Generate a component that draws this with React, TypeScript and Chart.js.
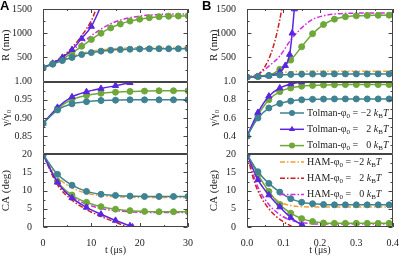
import React, { useEffect, useRef } from 'react';
import { Chart, registerables } from 'chart.js';
Chart.register(...registerables);

const SERIF = '"Liberation Serif", "Times New Roman", serif';

// ---------- Panel A (t in µs, 0–30) ----------
const tA_R = [0, 2, 4, 6, 8, 10, 12, 14, 16, 18, 20, 22, 24, 26, 28, 30];
const RA_tolM2 = [290, 360, 435, 500, 560, 600, 630, 650, 662, 670, 675, 678, 680, 680, 680, 680];
const RA_hamM2 = [290, 368, 450, 522, 582, 626, 656, 676, 688, 695, 700, 702, 704, 705, 705, 705];
const RA_tol0 = [290, 370, 470, 590, 730, 870, 1000, 1110, 1190, 1250, 1290, 1320, 1340, 1350, 1355, 1360];
const RA_ham0 = [290, 385, 505, 645, 795, 950, 1085, 1195, 1270, 1320, 1355, 1375, 1388, 1395, 1398, 1400];
const tA_RtolP2 = [0, 2, 4, 6, 8, 10, 12];
const RA_tolP2 = [290, 378, 500, 660, 890, 1140, 1560];
const tA_RhamP2 = [0, 2, 4, 6, 8, 10, 11, 12];
const RA_hamP2 = [290, 388, 520, 700, 950, 1260, 1500, 1760];

const tA_G = [0, 3, 6, 9, 12, 15, 18, 21, 24, 27, 30];
const GA_tolM2 = [0.885, 0.922, 0.939, 0.945, 0.948, 0.949, 0.95, 0.95, 0.95, 0.95, 0.95];
const GA_tol0 = [0.885, 0.926, 0.951, 0.962, 0.968, 0.971, 0.973, 0.974, 0.975, 0.975, 0.975];
const tA_GtolP2 = [0, 3, 6, 9, 12, 15, 18, 19];
const GA_tolP2 = [0.885, 0.929, 0.958, 0.972, 0.981, 0.989, 0.997, 1.0];

const tA_C = [0, 3, 6, 9, 12, 15, 18, 21, 24, 27, 30];
const CA_tolM2 = [20, 14.5, 11.5, 9.8, 9.0, 8.7, 8.5, 8.4, 8.4, 8.4, 8.4];
const CA_hamM2 = [20, 13.8, 10.8, 9.3, 8.6, 8.3, 8.2, 8.1, 8.1, 8.1, 8.1];
const CA_tol0 = [20, 12.5, 8.8, 6.8, 5.6, 4.9, 4.5, 4.3, 4.2, 4.2, 4.2];
const CA_ham0 = [20, 12.0, 8.3, 6.3, 5.1, 4.5, 4.2, 4.0, 4.0, 4.0, 4.0];
const tA_CtolP2 = [0, 3, 6, 9, 12, 15, 18, 18.5];
const CA_tolP2 = [20, 12.3, 8.0, 5.4, 3.5, 1.8, 0.3, 0];
const tA_ChamP2 = [0, 3, 6, 9, 12, 15, 17.5];
const CA_hamP2 = [20, 11.6, 7.4, 4.8, 2.9, 1.3, 0];

// ---------- Panel B (t in µs, 0–0.4) ----------
const tB = [0, 0.03, 0.06, 0.09, 0.12, 0.15, 0.18, 0.21, 0.24, 0.27, 0.3, 0.33, 0.36, 0.39, 0.4];
const RB_tolM2 = [95, 110, 125, 138, 148, 154, 157, 159, 160, 160, 160, 160, 160, 160, 160];
const RB_hamM2 = [95, 116, 148, 182, 204, 211, 214, 215, 215, 215, 215, 215, 215, 215, 215];
const RB_tol0 = [95, 102, 126, 255, 445, 720, 990, 1180, 1290, 1340, 1360, 1368, 1370, 1372, 1372];
const RB_ham0 = [95, 150, 320, 530, 860, 1110, 1285, 1360, 1395, 1410, 1415, 1418, 1420, 1420, 1420];
const tB_RtolP2 = [0, 0.03, 0.06, 0.09, 0.105, 0.117, 0.124, 0.13, 0.134];
const RB_tolP2 = [95, 103, 125, 200, 330, 560, 1000, 1500, 1700];
const tB_RhamP2 = [0, 0.02, 0.04, 0.05, 0.06, 0.07, 0.08, 0.09, 0.1];
const RB_hamP2 = [95, 125, 210, 320, 470, 670, 940, 1280, 1700];

const GB_tolM2 = [0.4, 0.6, 0.71, 0.76, 0.786, 0.8, 0.806, 0.808, 0.81, 0.81, 0.81, 0.81, 0.81, 0.81, 0.81];
const GB_tol0 = [0.4, 0.63, 0.8, 0.89, 0.93, 0.95, 0.958, 0.963, 0.966, 0.968, 0.968, 0.968, 0.968, 0.968, 0.968];
const tB_GtolP2 = [0, 0.03, 0.06, 0.09, 0.12, 0.15, 0.16];
const GB_tolP2 = [0.4, 0.66, 0.84, 0.93, 0.975, 0.997, 1.0];

const CB_tolM2 = [20, 15.2, 12, 9.6, 7.8, 6.8, 6.4, 6.2, 6.1, 6.1, 6.1, 6.1, 6.1, 6.1, 6.1];
const CB_hamM2 = [20, 13, 9.2, 6.9, 5.9, 5.6, 5.5, 5.5, 5.5, 5.5, 5.5, 5.5, 5.5, 5.5, 5.5];
const CB_tol0 = [20, 14.5, 9.8, 6.2, 3.8, 2.3, 1.5, 1.1, 1.0, 1.0, 1.0, 1.0, 1.0, 1.0, 1.0];
const CB_ham0 = [20, 11, 6.2, 3.4, 1.9, 1.2, 0.9, 0.8, 0.8, 0.8, 0.8, 0.8, 0.8, 0.8, 0.8];
const tB_CtolP2 = [0, 0.03, 0.06, 0.09, 0.12, 0.15, 0.155];
const CB_tolP2 = [20, 13, 8.8, 5.5, 2.6, 0.5, 0];
const tB_ChamP2 = [0, 0.02, 0.04, 0.06, 0.08, 0.1, 0.12, 0.125];
const CB_hamP2 = [20, 12.5, 8, 5, 2.9, 1.4, 0.3, 0];

// legend entries
const legendPrefix = ['Tolman-', 'Tolman-', 'Tolman-', 'HAM-', 'HAM-', 'HAM-'];
const legendNum = ['\u22122', '2', '0', '\u22122', '2', '0'];

const TEAL = '#3f8292';
const PURPLE = '#5a25e2';
const GREEN = '#6fa83a';
const ORANGE = '#f0a030';
const RED = '#cc1f1f';
const MAGENTA = '#d22de0';
const FRAME = '#444';
const DASH = [5, 2, 1.5, 2];

const legendColor = [TEAL, PURPLE, GREEN, ORANGE, RED, MAGENTA];
const legendStyle = ['circle', 'triangle', 'circle', 'ham', 'ham', 'ham'];

function pts(xs: number[], ys: number[]) {
  return xs.map((x, i) => ({ x, y: ys[i] }));
}

function tolman(color: string, style: string, xs: number[], ys: number[], yAxisID: string, markLast = true) {
  const n = xs.length;
  const r = style === 'triangle' ? 3.6 : 3;
  return {
    data: pts(xs, ys),
    yAxisID,
    xAxisID: 'x',
    borderColor: color,
    backgroundColor: color,
    borderWidth: 1.5,
    pointStyle: style,
    pointRadius: (c: any) => (!markLast && c.dataIndex === n - 1 ? 0 : r),
    pointBorderColor: color,
    pointBackgroundColor: color,
    pointBorderWidth: 1,
    cubicInterpolationMode: 'monotone',
    fill: false,
  };
}

function ham(color: string, xs: number[], ys: number[], yAxisID: string) {
  return {
    data: pts(xs, ys),
    yAxisID,
    xAxisID: 'x',
    borderColor: color,
    backgroundColor: color,
    borderWidth: 1.5,
    borderDash: DASH,
    pointRadius: 0,
    cubicInterpolationMode: 'monotone',
    fill: false,
  };
}

function drawMarker(ctx: CanvasRenderingContext2D, style: string, color: string, x: number, y: number) {
  ctx.fillStyle = color;
  ctx.beginPath();
  if (style === 'triangle') {
    const r = 3.6;
    ctx.moveTo(x, y - r);
    ctx.lineTo(x + r * 0.87, y + r * 0.5);
    ctx.lineTo(x - r * 0.87, y + r * 0.5);
    ctx.closePath();
  } else {
    ctx.arc(x, y, 3, 0, Math.PI * 2);
  }
  ctx.fill();
}

function drawLegend(ctx: CanvasRenderingContext2D, rowsY: number[], lineX0: number, lineX1: number, textX: number) {
  ctx.save();
  ctx.textBaseline = 'middle';
  ctx.fillStyle = '#222';
  const big = `10px ${SERIF}`;
  const small = `7px ${SERIF}`;
  const ital = `italic 10px ${SERIF}`;
  rowsY.forEach((y, i) => {
    const color = legendColor[i];
    const style = legendStyle[i];
    ctx.strokeStyle = color;
    ctx.lineWidth = 1.5;
    ctx.setLineDash(style === 'ham' ? DASH : []);
    ctx.beginPath();
    ctx.moveTo(lineX0, y);
    ctx.lineTo(lineX1, y);
    ctx.stroke();
    ctx.setLineDash([]);
    if (style !== 'ham') drawMarker(ctx, style, color, (lineX0 + lineX1) / 2, y);
    ctx.fillStyle = '#222';
    let x = textX;
    ctx.font = big;
    const pre = legendPrefix[i] + '\u03c6';
    ctx.fillText(pre, x, y);
    x += ctx.measureText(pre).width;
    ctx.font = small;
    ctx.fillText('0', x, y + 3);
    x += ctx.measureText('0').width;
    ctx.font = big;
    ctx.fillText(' = ', x, y);
    x += ctx.measureText(' = ').width;
    const nw = ctx.measureText('\u22122').width;
    ctx.textAlign = 'right';
    ctx.fillText(legendNum[i], x + nw, y);
    ctx.textAlign = 'left';
    x += nw + ctx.measureText(' ').width;
    ctx.font = ital;
    ctx.fillText('k', x, y);
    x += ctx.measureText('k').width;
    ctx.font = small;
    ctx.fillText('B', x, y + 3);
    x += ctx.measureText('B').width;
    ctx.font = ital;
    ctx.fillText('T', x, y);
  });
  ctx.restore();
}

const framePlugin = {
  id: 'frameTicks',
  afterDatasetsDraw(chart: any) {
    const ctx = chart.ctx as CanvasRenderingContext2D;
    const { left, right, top, bottom } = chart.chartArea;
    ctx.save();
    ctx.strokeStyle = FRAME;
    ctx.lineWidth = 1;
    const L = Math.round(left) + 0.5;
    const R = Math.round(right) - 0.5;
    for (const id of ['yR', 'yG', 'yC']) {
      const s = chart.scales[id];
      const t = Math.round(s.top) + 0.5;
      const b = Math.round(s.bottom) - 0.5;
      ctx.beginPath();
      ctx.rect(L, t, R - L, b - t);
      ctx.stroke();
      const vals = s.ticks.map((tk: any) => tk.value);
      ctx.beginPath();
      vals.forEach((v: number, k: number) => {
        const py = Math.round(s.getPixelForValue(v)) + 0.5;
        ctx.moveTo(L, py); ctx.lineTo(L + 4, py);
        ctx.moveTo(R, py); ctx.lineTo(R - 4, py);
        if (k < vals.length - 1) {
          const my = Math.round(s.getPixelForValue((v + vals[k + 1]) / 2)) + 0.5;
          ctx.moveTo(L, my); ctx.lineTo(L + 2, my);
          ctx.moveTo(R, my); ctx.lineTo(R - 2, my);
        }
      });
      ctx.stroke();
    }
    const xs = chart.scales.x;
    const xv = xs.ticks.map((tk: any) => tk.value);
    ctx.beginPath();
    xv.forEach((v: number, k: number) => {
      const px = Math.round(xs.getPixelForValue(v)) + 0.5;
      ctx.moveTo(px, bottom); ctx.lineTo(px, bottom - 4);
      ctx.moveTo(px, top); ctx.lineTo(px, top + 4);
      if (k < xv.length - 1) {
        const mx = Math.round(xs.getPixelForValue((v + xv[k + 1]) / 2)) + 0.5;
        ctx.moveTo(mx, bottom); ctx.lineTo(mx, bottom - 2);
        ctx.moveTo(mx, top); ctx.lineTo(mx, top + 2);
      }
    });
    ctx.stroke();
    ctx.restore();
    if (chart.options.plugins.frameTicks && chart.options.plugins.frameTicks.legend) {
      const lg = chart.options.plugins.frameTicks.legend;
      drawLegend(ctx, lg.rows, lg.x0, lg.x1, lg.tx);
    }
  },
};

type PanelCfg = {
  xMax: number; xStep: number; xDigits: number;
  gMin: number; gStep: number; gDigits: number;
  axisW: number; titlePad: number; padRight: number;
  datasets: any[]; legend?: any;
};

function makeConfig(p: PanelCfg): any {
  const tickFont = { family: SERIF, size: 10 };
  const titleFont = { family: SERIF, size: 11 };
  const yCommon = (title: string) => ({
    type: 'linear',
    position: 'left',
    stack: 'col',
    stackWeight: 1,
    grid: { display: false },
    border: { display: false },
    ticks: { color: '#222', font: tickFont, padding: 3, autoSkip: false },
    title: { display: true, text: title, color: '#222', font: titleFont, padding: { top: p.titlePad, bottom: 0 } },
    afterFit: (s: any) => { s.width = p.axisW; },
  });
  return {
    type: 'line',
    data: { datasets: p.datasets },
    plugins: [framePlugin],
    options: {
      animation: false,
      responsive: false,
      events: [],
      layout: { padding: { top: 7, right: p.padRight, bottom: 0, left: 0 } },
      plugins: { legend: { display: false }, tooltip: { enabled: false }, frameTicks: { legend: p.legend } },
      scales: {
        x: {
          type: 'linear', position: 'bottom', min: 0, max: p.xMax,
          grid: { display: false }, border: { display: false },
          ticks: {
            stepSize: p.xStep, color: '#222', font: tickFont, padding: 2, autoSkip: false, maxRotation: 0,
            callback: (v: number) => Number(v).toFixed(p.xDigits),
          },
          title: { display: true, text: 't (\u03bcs)', color: '#222', font: { family: SERIF, size: 10 }, padding: { top: 0, bottom: 0 } },
          afterFit: (s: any) => { s.height = 29; },
        },
        yC: {
          ...yCommon('CA (deg)'), min: 0, max: 20,
          ticks: { ...yCommon('').ticks, stepSize: 5, callback: (v: number) => String(v) },
        },
        yG: {
          ...yCommon('\u03b3/\u03b3\u2080'), min: p.gMin, max: 1.0,
          ticks: {
            ...yCommon('').ticks, stepSize: p.gStep,
            callback: (v: number) => (Math.abs(v - p.gMin) < 1e-6 ? '' : Number(v).toFixed(p.gDigits)),
          },
        },
        yR: {
          ...yCommon('R (nm)'), min: 0, max: 1500,
          ticks: { ...yCommon('').ticks, stepSize: 500, callback: (v: number) => (v === 0 ? '' : String(v)) },
        },
      },
    },
  };
}

const panelA: PanelCfg = {
  xMax: 30, xStep: 10, xDigits: 0, gMin: 0.8, gStep: 0.05, gDigits: 2,
  axisW: 43, titlePad: 0, padRight: 6,
  datasets: [
    tolman(TEAL, 'circle', tA_R, RA_tolM2, 'yR'),
    tolman(PURPLE, 'triangle', tA_RtolP2, RA_tolP2, 'yR'),
    tolman(GREEN, 'circle', tA_R, RA_tol0, 'yR'),
    ham(ORANGE, tA_R, RA_hamM2, 'yR'),
    ham(RED, tA_RhamP2, RA_hamP2, 'yR'),
    ham(MAGENTA, tA_R, RA_ham0, 'yR'),
    tolman(TEAL, 'circle', tA_G, GA_tolM2, 'yG'),
    tolman(PURPLE, 'triangle', tA_GtolP2, GA_tolP2, 'yG', false),
    tolman(GREEN, 'circle', tA_G, GA_tol0, 'yG'),
    tolman(TEAL, 'circle', tA_C, CA_tolM2, 'yC'),
    tolman(PURPLE, 'triangle', tA_CtolP2, CA_tolP2, 'yC'),
    tolman(GREEN, 'circle', tA_C, CA_tol0, 'yC'),
    ham(ORANGE, tA_C, CA_hamM2, 'yC'),
    ham(RED, tA_ChamP2, CA_hamP2, 'yC'),
    ham(MAGENTA, tA_C, CA_ham0, 'yC'),
  ],
};

const panelB: PanelCfg = {
  xMax: 0.4, xStep: 0.1, xDigits: 1, gMin: 0.2, gStep: 0.2, gDigits: 1,
  axisW: 47, titlePad: 8, padRight: 8,
  datasets: [
    tolman(TEAL, 'circle', tB, RB_tolM2, 'yR', false),
    tolman(PURPLE, 'triangle', tB_RtolP2, RB_tolP2, 'yR'),
    tolman(GREEN, 'circle', tB, RB_tol0, 'yR', false),
    ham(ORANGE, tB, RB_hamM2, 'yR'),
    ham(RED, tB_RhamP2, RB_hamP2, 'yR'),
    ham(MAGENTA, tB, RB_ham0, 'yR'),
    tolman(TEAL, 'circle', tB, GB_tolM2, 'yG', false),
    tolman(PURPLE, 'triangle', tB_GtolP2, GB_tolP2, 'yG', false),
    tolman(GREEN, 'circle', tB, GB_tol0, 'yG', false),
    tolman(TEAL, 'circle', tB, CB_tolM2, 'yC', false),
    tolman(PURPLE, 'triangle', tB_CtolP2, CB_tolP2, 'yC'),
    tolman(GREEN, 'circle', tB, CB_tol0, 'yC', false),
    ham(ORANGE, tB, CB_hamM2, 'yC'),
    ham(RED, tB_ChamP2, CB_hamP2, 'yC'),
    ham(MAGENTA, tB, CB_ham0, 'yC'),
  ],
  legend: { rows: [113, 129.3, 145.6, 162, 178.2, 194.5], x0: 80, x1: 104, tx: 107 },
};

function Panel({ cfg, left, width }: { cfg: PanelCfg; left: number; width: number }) {
  const ref = useRef<HTMLCanvasElement>(null);
  useEffect(() => {
    if (!ref.current) return;
    const chart = new Chart(ref.current, makeConfig(cfg));
    return () => chart.destroy();
  }, [cfg]);
  return (
    <canvas
      ref={ref}
      width={width}
      height={256}
      style={{ position: 'absolute', left, top: 0, width, height: 256 }}
    />
  );
}

const letterStyle: React.CSSProperties = {
  position: 'absolute', top: -2, fontFamily: '"Liberation Sans", Arial, sans-serif',
  fontWeight: 'bold', fontSize: 13, color: '#000', lineHeight: '16px',
};

export default function App() {
  return (
    <div style={{ position: 'fixed', left: 0, top: 0, width: 401, height: 256, background: '#fff', overflow: 'hidden' }}>
      <Panel cfg={panelA} left={0} width={195} />
      <Panel cfg={panelB} left={200} width={201} />
      <div style={{ ...letterStyle, left: 0 }}>A</div>
      <div style={{ ...letterStyle, left: 202 }}>B</div>
    </div>
  );
}
